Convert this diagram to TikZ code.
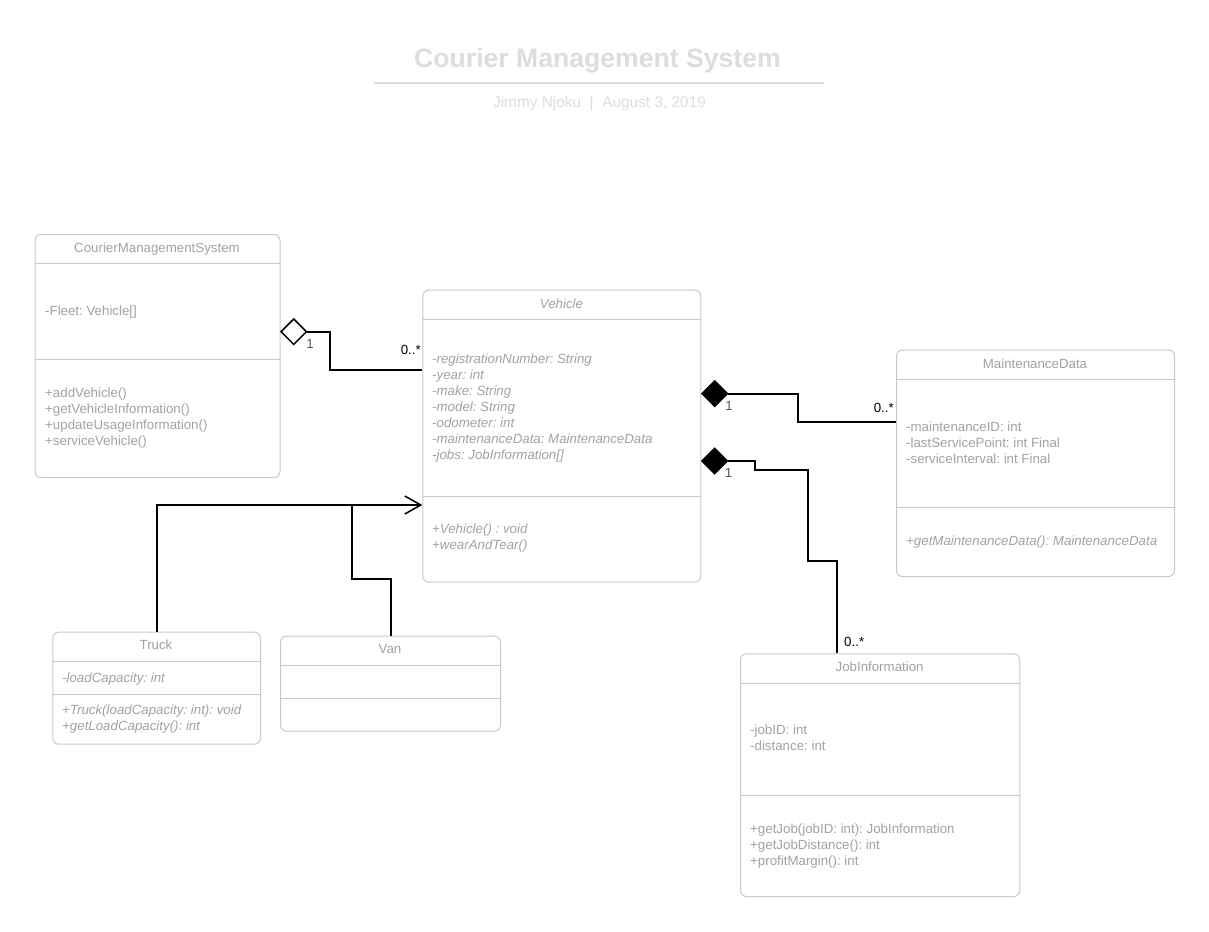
\documentclass[tikz,border=0pt]{standalone}
\usepackage{fontspec}
\setmainfont{Liberation Sans}
\usetikzlibrary{shapes.geometric,arrows.meta}
\definecolor{boxline}{RGB}{200,200,200}
\definecolor{txt}{RGB}{162,162,162}
\definecolor{ttl}{RGB}{221,221,221}
\definecolor{multone}{RGB}{90,90,90}
\frenchspacing
\begin{document}
\begin{tikzpicture}[x=1pt,y=-1pt,
  cls/.style={draw=boxline, line width=1pt, rounded corners=6pt, inner sep=0pt, anchor=north west},
  div/.style={draw=boxline, line width=1pt},
  lbl/.style={font=\fontsize{13.3}{16}\selectfont, text=txt, inner sep=0pt, anchor=base west},
  ilbl/.style={lbl, font=\fontsize{13.3}{16}\selectfont\itshape},
  clsname/.style={lbl, anchor=base},
  mult/.style={font=\fontsize{13.3}{16}\selectfont, text=black, inner sep=0pt},
  conn/.style={draw=black, line width=2pt},
  aggd/.style={diamond, draw=black, line width=1.5pt, fill=white, minimum width=26pt, minimum height=26pt, inner sep=0pt},
  compd/.style={diamond, draw=black, line width=1.5pt, fill=black, minimum width=26pt, minimum height=26pt, inner sep=0pt}
]
\useasboundingbox[fill=white] (0,0) rectangle (1209,931);

% Title
\node[font=\fontsize{26.6}{30}\selectfont\bfseries, text=ttl, inner sep=0pt, anchor=base] (title) at (597.5,67.5) {Courier Management System};
\draw[ttl, line width=2pt] (374,83) -- (824,83);
\node[font=\fontsize{15.4}{18}\selectfont, text=ttl, inner sep=0pt, anchor=base] (subtitle) at (599.5,107) {Jimmy Njoku~~|~~August 3, 2019};

% CourierManagementSystem
\node[cls, minimum width=245pt, minimum height=243pt] (cms) at (34.5,234) {};
\draw[div] (cms.west |- 0,263.5) -- (cms.east |- 0,263.5);
\draw[div] (cms.west |- 0,359) -- (cms.east |- 0,359);
\node[clsname] (cmsname) at (157,252) {CourierManagementSystem};
\node[lbl] (cmsa1) at (45,315) {-Fleet: Vehicle[]};
\node[lbl] (cmsm1) at (45,397) {+addVehicle()};
\node[lbl] (cmsm2) at (45,413) {+getVehicleInformation()};
\node[lbl] (cmsm3) at (45,429) {+updateUsageInformation()};
\node[lbl] (cmsm4) at (45,445) {+serviceVehicle()};

% Vehicle
\node[cls, minimum width=278pt, minimum height=292pt] (veh) at (422.3,289.7) {};
\draw[div] (veh.west |- 0,319) -- (veh.east |- 0,319);
\draw[div] (veh.west |- 0,496) -- (veh.east |- 0,496);
\node[clsname, font=\fontsize{13.3}{16}\selectfont\itshape] (vehname) at (561.5,308) {Vehicle};
\node[ilbl] (veha1) at (432,363) {-registrationNumber: String};
\node[ilbl] (veha2) at (432,379) {-year: int};
\node[ilbl] (veha3) at (432,395) {-make: String};
\node[ilbl] (veha4) at (432,411) {-model: String};
\node[ilbl] (veha5) at (432,427) {-odometer: int};
\node[ilbl] (veha6) at (432,443) {-maintenanceData: MaintenanceData};
\node[ilbl] (veha7) at (432,459) {-jobs: JobInformation[]};
\node[ilbl] (vehm1) at (432,533) {+Vehicle() : void};
\node[ilbl] (vehm2) at (432,549) {+wearAndTear()};

% MaintenanceData
\node[cls, minimum width=278pt, minimum height=226.5pt] (mnt) at (896,349.5) {};
\draw[div] (mnt.west |- 0,379.3) -- (mnt.east |- 0,379.3);
\draw[div] (mnt.west |- 0,507.3) -- (mnt.east |- 0,507.3);
\node[clsname] (mntname) at (1035,368) {MaintenanceData};
\node[lbl] (mnta1) at (906,431) {-maintenanceID: int};
\node[lbl] (mnta2) at (906,447) {-lastServicePoint: int Final};
\node[lbl] (mnta3) at (906,463) {-serviceInterval: int Final};
\node[ilbl] (mntm1) at (906,545.5) {+getMaintenanceData(): MaintenanceData};

% Truck
\node[cls, minimum width=207.7pt, minimum height=112pt] (truck) at (52.3,631.7) {};
\draw[div] (truck.west |- 0,661.7) -- (truck.east |- 0,661.7);
\draw[div] (truck.west |- 0,694) -- (truck.east |- 0,694);
\node[clsname] (truckname) at (156,649.5) {Truck};
\node[ilbl] (trucka1) at (62,682) {-loadCapacity: int};
\node[ilbl] (truckm1) at (62,714) {+Truck(loadCapacity: int): void};
\node[ilbl] (truckm2) at (62,730.5) {+getLoadCapacity(): int};

% Van
\node[cls, minimum width=220pt, minimum height=95pt] (van) at (280,635.7) {};
\draw[div] (van.west |- 0,665.7) -- (van.east |- 0,665.7);
\draw[div] (van.west |- 0,698.3) -- (van.east |- 0,698.3);
\node[clsname] (vanname) at (390,653.3) {Van};

% JobInformation
\node[cls, minimum width=279.3pt, minimum height=242.7pt] (job) at (740,653.3) {};
\draw[div] (job.west |- 0,683) -- (job.east |- 0,683);
\draw[div] (job.west |- 0,795) -- (job.east |- 0,795);
\node[clsname] (jobname) at (879.6,671.5) {JobInformation};
\node[lbl] (joba1) at (750,734.3) {-jobID: int};
\node[lbl] (joba2) at (750,750.5) {-distance: int};
\node[lbl] (jobm1) at (750,833) {+getJob(jobID: int): JobInformation};
\node[lbl] (jobm2) at (750,849) {+getJobDistance(): int};
\node[lbl] (jobm3) at (750,865) {+profitMargin(): int};

% Aggregation CMS -- Vehicle
\node[aggd] (agg) at (293.7,331.7) {};
\draw[conn] (agg.east) -| (330,370) -- (veh.west |- 0,370);
\node[mult, text=multone, anchor=base] (aggone) at (310,348) {1};
\node[mult, anchor=base east] (aggmany) at (421,354) {0..*};

% Composition Vehicle -- MaintenanceData
\node[compd] (comp1) at (714.7,393.7) {};
\draw[conn] (comp1.east) -| (797.7,422) -- (mnt.west |- 0,422);
\node[mult, text=multone, anchor=base] (comp1one) at (729,410.5) {1};
\node[mult, anchor=base east] (comp1many) at (894,412.5) {0..*};

% Composition Vehicle -- JobInformation
\node[compd] (comp2) at (714.7,461) {};
\draw[conn] (comp2.east) -- (754.5,461) -- (754.5,470) -- (807.5,470) -- (807.5,561) -- (837,561) -- (job.north -| 837,0);
\node[mult, text=multone, anchor=base] (comp2one) at (728.5,477) {1};
\node[mult, anchor=base west] (comp2many) at (844,646.5) {0..*};

% Generalization Truck, Van -> Vehicle
\draw[conn, -{Straight Barb[length=16pt,width=18pt,line width=1.5pt]}] (truck.north) |- (veh.west |- 0,505);
\draw[conn] (van.north) |- (351.7,579) -- (351.7,505);
\end{tikzpicture}
\end{document}
